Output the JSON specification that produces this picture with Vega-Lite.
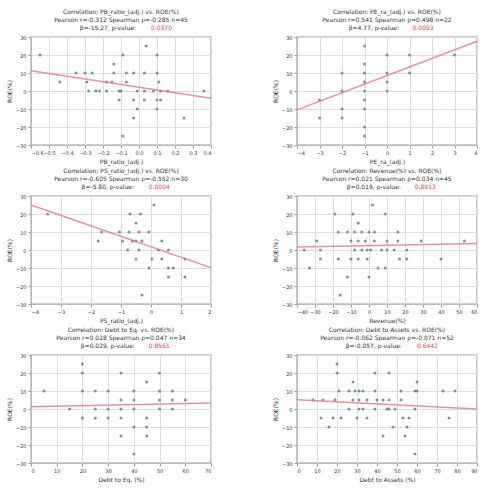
{
  "$schema": "https://vega.github.io/schema/vega-lite/v6.json",
  "padding": {"left": 5, "top": 8, "right": 5, "bottom": 2},
  "columns": 2,
  "spacing": {"row": 2, "column": 56},
  "datasets": {
    "p1": [{"x":-0.55,"y":20},{"x":-0.09,"y":20},{"x":0.1,"y":20},{"x":0.04,"y":25},{"x":-0.14,"y":15},{"x":-0.35,"y":10},{"x":-0.3,"y":10},{"x":-0.26,"y":10},{"x":-0.14,"y":10},{"x":-0.07,"y":10},{"x":-0.03,"y":10},{"x":0.03,"y":10},{"x":0.1,"y":10},{"x":-0.44,"y":5},{"x":-0.29,"y":5},{"x":-0.18,"y":5},{"x":-0.15,"y":5},{"x":-0.07,"y":5},{"x":0.11,"y":5},{"x":-0.28,"y":0},{"x":-0.24,"y":0},{"x":-0.22,"y":0},{"x":-0.18,"y":0},{"x":-0.11,"y":0},{"x":-0.1,"y":0},{"x":-0.01,"y":0},{"x":0.03,"y":0},{"x":0.08,"y":0},{"x":0.12,"y":0},{"x":0.16,"y":0},{"x":0.36,"y":0},{"x":-0.11,"y":-5},{"x":-0.03,"y":-5},{"x":0.03,"y":-5},{"x":0.1,"y":-5},{"x":0.12,"y":-5},{"x":-0.01,"y":-10},{"x":0.1,"y":-10},{"x":-0.03,"y":-15},{"x":0.25,"y":-15},{"x":-0.09,"y":-25}],
    "l1": [{"x":-0.6,"y":11.3},{"x":0.4,"y":-4}],
    "p2": [{"x":-1,"y":25},{"x":0,"y":20},{"x":1,"y":20},{"x":3,"y":20},{"x":-1,"y":15},{"x":-2,"y":10},{"x":-1,"y":10},{"x":0,"y":10},{"x":1,"y":10},{"x":-1,"y":5},{"x":0,"y":5},{"x":-2,"y":0},{"x":-1,"y":0},{"x":0,"y":0},{"x":-3,"y":-5},{"x":-1,"y":-5},{"x":-2,"y":-10},{"x":-1,"y":-10},{"x":-3,"y":-15},{"x":-2,"y":-15},{"x":-1,"y":-20},{"x":-1,"y":-25}],
    "l2": [{"x":-4,"y":-10.5},{"x":4,"y":27.6}],
    "p3": [{"x":-3.45,"y":20},{"x":0.1,"y":25},{"x":-0.7,"y":20},{"x":-0.35,"y":20},{"x":-0.5,"y":15},{"x":-1.65,"y":10},{"x":-1.05,"y":10},{"x":-0.73,"y":10},{"x":-0.4,"y":10},{"x":-0.07,"y":10},{"x":-1.76,"y":5},{"x":-0.95,"y":5},{"x":-0.62,"y":5},{"x":-0.5,"y":5},{"x":-0.3,"y":5},{"x":0.36,"y":5},{"x":-0.78,"y":0},{"x":-0.4,"y":0},{"x":0.25,"y":0},{"x":0.58,"y":0},{"x":-0.5,"y":-5},{"x":0.03,"y":-5},{"x":0.36,"y":-5},{"x":1.13,"y":-5},{"x":-0.07,"y":-10},{"x":0.58,"y":-10},{"x":0.74,"y":-10},{"x":0.58,"y":-15},{"x":1.13,"y":-15},{"x":-0.3,"y":-25}],
    "l3": [{"x":-4,"y":25},{"x":2,"y":-9.8}],
    "p4": [{"x":2,"y":25},{"x":-19,"y":20},{"x":-9,"y":20},{"x":9,"y":20},{"x":-6,"y":15},{"x":-17,"y":10},{"x":-12,"y":10},{"x":-8,"y":10},{"x":-4,"y":10},{"x":0,"y":10},{"x":3,"y":10},{"x":16,"y":10},{"x":-29,"y":5},{"x":-10,"y":5},{"x":-6,"y":5},{"x":-2,"y":5},{"x":3,"y":5},{"x":10,"y":5},{"x":16,"y":5},{"x":29,"y":5},{"x":53,"y":5},{"x":-36,"y":0},{"x":-27,"y":0},{"x":-8,"y":0},{"x":-4,"y":0},{"x":-1,"y":0},{"x":1,"y":0},{"x":7,"y":0},{"x":10,"y":0},{"x":14,"y":0},{"x":21,"y":0},{"x":-27,"y":-5},{"x":-17,"y":-5},{"x":-10,"y":-5},{"x":-6,"y":-5},{"x":-1,"y":-5},{"x":17,"y":-5},{"x":21,"y":-5},{"x":40,"y":-5},{"x":-33,"y":-10},{"x":5,"y":-10},{"x":9,"y":-10},{"x":-12,"y":-15},{"x":0,"y":-15},{"x":-16,"y":-25}],
    "l4": [{"x":-40,"y":1.7},{"x":60,"y":3.6}],
    "p5": [{"x":20,"y":25},{"x":20,"y":20},{"x":35,"y":20},{"x":50,"y":20},{"x":45,"y":15},{"x":5,"y":10},{"x":20,"y":10},{"x":25,"y":10},{"x":30,"y":10},{"x":40,"y":10},{"x":50,"y":10},{"x":55,"y":10},{"x":35,"y":5},{"x":40,"y":5},{"x":50,"y":5},{"x":55,"y":5},{"x":60,"y":5},{"x":15,"y":0},{"x":25,"y":0},{"x":30,"y":0},{"x":35,"y":0},{"x":40,"y":0},{"x":50,"y":0},{"x":55,"y":0},{"x":20,"y":-5},{"x":25,"y":-5},{"x":30,"y":-5},{"x":35,"y":-5},{"x":45,"y":-5},{"x":40,"y":-10},{"x":45,"y":-10},{"x":35,"y":-15},{"x":45,"y":-15},{"x":40,"y":-25}],
    "l5": [{"x":0,"y":1.3},{"x":70,"y":3.3}],
    "p6": [{"x":20,"y":25},{"x":20,"y":20},{"x":39,"y":20},{"x":46,"y":20},{"x":60,"y":15},{"x":28,"y":15},{"x":21,"y":10},{"x":26,"y":10},{"x":29,"y":10},{"x":31,"y":10},{"x":33,"y":10},{"x":39,"y":10},{"x":52,"y":10},{"x":59,"y":10},{"x":60,"y":10},{"x":73,"y":10},{"x":79,"y":10},{"x":8,"y":5},{"x":13,"y":5},{"x":19,"y":5},{"x":28,"y":5},{"x":31,"y":5},{"x":35,"y":5},{"x":40,"y":5},{"x":43,"y":5},{"x":46,"y":5},{"x":52,"y":5},{"x":26,"y":0},{"x":31,"y":0},{"x":33,"y":0},{"x":39,"y":0},{"x":45,"y":0},{"x":46,"y":0},{"x":49,"y":0},{"x":59,"y":0},{"x":12,"y":-5},{"x":18,"y":-5},{"x":22,"y":-5},{"x":30,"y":-5},{"x":35,"y":-5},{"x":53,"y":-5},{"x":56,"y":-5},{"x":76,"y":-5},{"x":16,"y":-10},{"x":48,"y":-10},{"x":55,"y":-10},{"x":43,"y":-15},{"x":54,"y":-15},{"x":59,"y":-25}],
    "l6": [{"x":0,"y":5.1},{"x":90,"y":0}]
  },
  "concat": [
    {
      "title": {"text": ["Correlation: PB_ratio_(adj.) vs. ROE(%)", "Pearson r=-0.312  Spearman ρ=-0.285  n=45", "β=-15.27, p-value:\u2800\u2800\u2800\u2800\u2800\u2800"], "subtitle": "\u2800\u2800\u2800\u2800\u2800\u2800\u2800\u2800\u2800\u2800\u2800\u2800\u2800\u2800\u2800\u2800\u2800\u2800 0.0370"},
      "width": 180, "height": 108,
      "encoding": {"x": {"field": "x", "type": "quantitative", "scale": {"domain": [-0.6, 0.4], "nice": false, "zero": false}, "axis": {"values": [-0.6,-0.5,-0.4,-0.3,-0.2,-0.1,0,0.1,0.2,0.3,0.4], "format": ".1f", "title": "PB_ratio_(adj.)"}},
                   "y": {"field": "y", "type": "quantitative", "scale": {"domain": [-30, 30], "nice": false}, "axis": {"values": [-30,-20,-10,0,10,20,30], "title": "ROE(%)"}}},
      "layer": [
        {"data": {"name": "p1"}, "mark": {"type": "point", "filled": true, "size": 9, "color": "#5b7a99", "opacity": 0.8}},
        {"data": {"name": "l1"}, "mark": {"type": "line", "color": "#f07080", "strokeWidth": 1.5, "opacity": 0.8}}
      ]
    },
    {
      "title": {"text": ["Correlation: PE_ra_(adj.) vs. ROE(%)", "Pearson r=0.541  Spearman ρ=0.498  n=22", "β=4.77, p-value:\u2800\u2800\u2800\u2800\u2800\u2800"], "subtitle": "\u2800\u2800\u2800\u2800\u2800\u2800\u2800\u2800\u2800\u2800\u2800\u2800\u2800\u2800\u2800\u2800 0.0093"},
      "width": 180, "height": 108,
      "encoding": {"x": {"field": "x", "type": "quantitative", "scale": {"domain": [-4, 4], "nice": false, "zero": false}, "axis": {"values": [-4,-3,-2,-1,0,1,2,3,4], "title": "PE_ra_(adj.)"}},
                   "y": {"field": "y", "type": "quantitative", "scale": {"domain": [-30, 30], "nice": false}, "axis": {"values": [-30,-20,-10,0,10,20,30], "title": "ROE(%)"}}},
      "layer": [
        {"data": {"name": "p2"}, "mark": {"type": "point", "filled": true, "size": 9, "color": "#5b7a99", "opacity": 0.8}},
        {"data": {"name": "l2"}, "mark": {"type": "line", "color": "#f07080", "strokeWidth": 1.5, "opacity": 0.8}}
      ]
    },
    {
      "title": {"text": ["Correlation: PS_ratio_(adj.) vs. ROE(%)", "Pearson r=-0.605  Spearman ρ=-0.552  n=30", "β=-5.80, p-value:\u2800\u2800\u2800\u2800\u2800\u2800"], "subtitle": "\u2800\u2800\u2800\u2800\u2800\u2800\u2800\u2800\u2800\u2800\u2800\u2800\u2800\u2800\u2800\u2800\u2800 0.0004"},
      "width": 180, "height": 108,
      "encoding": {"x": {"field": "x", "type": "quantitative", "scale": {"domain": [-4, 2], "nice": false, "zero": false}, "axis": {"values": [-4,-3,-2,-1,0,1,2], "title": "PS_ratio_(adj.)"}},
                   "y": {"field": "y", "type": "quantitative", "scale": {"domain": [-30, 30], "nice": false}, "axis": {"values": [-30,-20,-10,0,10,20,30], "title": "ROE(%)"}}},
      "layer": [
        {"data": {"name": "p3"}, "mark": {"type": "point", "filled": true, "size": 9, "color": "#5b7a99", "opacity": 0.8}},
        {"data": {"name": "l3"}, "mark": {"type": "line", "color": "#f07080", "strokeWidth": 1.5, "opacity": 0.8}}
      ]
    },
    {
      "title": {"text": ["Correlation: Revenue(%) vs. ROE(%)", "Pearson r=0.021  Spearman ρ=0.034  n=45", "β=0.019, p-value:\u2800\u2800\u2800\u2800\u2800\u2800"], "subtitle": "\u2800\u2800\u2800\u2800\u2800\u2800\u2800\u2800\u2800\u2800\u2800\u2800\u2800\u2800\u2800\u2800\u2800 0.8913"},
      "width": 180, "height": 108,
      "encoding": {"x": {"field": "x", "type": "quantitative", "scale": {"domain": [-40, 60], "nice": false, "zero": false}, "axis": {"values": [-40,-30,-20,-10,0,10,20,30,40,50,60], "title": "Revenue(%)"}},
                   "y": {"field": "y", "type": "quantitative", "scale": {"domain": [-30, 30], "nice": false}, "axis": {"values": [-30,-20,-10,0,10,20,30], "title": "ROE(%)"}}},
      "layer": [
        {"data": {"name": "p4"}, "mark": {"type": "point", "filled": true, "size": 9, "color": "#5b7a99", "opacity": 0.8}},
        {"data": {"name": "l4"}, "mark": {"type": "line", "color": "#f07080", "strokeWidth": 1.5, "opacity": 0.8}}
      ]
    },
    {
      "title": {"text": ["Correlation: Debt to Eq. vs. ROE(%)", "Pearson r=0.028  Spearman ρ=0.047  n=34", "β=0.029, p-value:\u2800\u2800\u2800\u2800\u2800\u2800"], "subtitle": "\u2800\u2800\u2800\u2800\u2800\u2800\u2800\u2800\u2800\u2800\u2800\u2800\u2800\u2800\u2800\u2800\u2800 0.8561"},
      "width": 180, "height": 108,
      "encoding": {"x": {"field": "x", "type": "quantitative", "scale": {"domain": [0, 70], "nice": false, "zero": false}, "axis": {"values": [0,10,20,30,40,50,60,70], "title": "Debt to Eq. (%)"}},
                   "y": {"field": "y", "type": "quantitative", "scale": {"domain": [-30, 30], "nice": false}, "axis": {"values": [-30,-20,-10,0,10,20,30], "title": "ROE(%)"}}},
      "layer": [
        {"data": {"name": "p5"}, "mark": {"type": "point", "filled": true, "size": 9, "color": "#5b7a99", "opacity": 0.8}},
        {"data": {"name": "l5"}, "mark": {"type": "line", "color": "#f07080", "strokeWidth": 1.5, "opacity": 0.8}}
      ]
    },
    {
      "title": {"text": ["Correlation: Debt to Assets vs. ROE(%)", "Pearson r=-0.062  Spearman ρ=-0.071  n=52", "β=-0.057, p-value:\u2800\u2800\u2800\u2800\u2800\u2800"], "subtitle": "\u2800\u2800\u2800\u2800\u2800\u2800\u2800\u2800\u2800\u2800\u2800\u2800\u2800\u2800\u2800\u2800\u2800\u2800 0.6442"},
      "width": 180, "height": 108,
      "encoding": {"x": {"field": "x", "type": "quantitative", "scale": {"domain": [0, 90], "nice": false, "zero": false}, "axis": {"values": [0,10,20,30,40,50,60,70,80,90], "title": "Debt to Assets (%)"}},
                   "y": {"field": "y", "type": "quantitative", "scale": {"domain": [-30, 30], "nice": false}, "axis": {"values": [-30,-20,-10,0,10,20,30], "title": "ROE(%)"}}},
      "layer": [
        {"data": {"name": "p6"}, "mark": {"type": "point", "filled": true, "size": 9, "color": "#5b7a99", "opacity": 0.8}},
        {"data": {"name": "l6"}, "mark": {"type": "line", "color": "#f07080", "strokeWidth": 1.5, "opacity": 0.8}}
      ]
    }
  ],
  "config": {
    "font": "DejaVu Sans",
    "view": {"stroke": "#bbbbbb", "strokeWidth": 1.5},
    "axis": {"labelFontSize": 5, "titleFontSize": 6, "titleFontWeight": "normal", "titleColor": "#333", "labelColor": "#333", "gridColor": "#dddddd", "domainColor": "#bbbbbb", "tickColor": "#999999", "tickSize": 3, "labelPadding": 2, "titlePadding": 3, "labelOverlap": false, "labelFont": "DejaVu Sans", "titleFont": "DejaVu Sans"},
    "title": {"fontSize": 6, "font": "DejaVu Sans", "fontWeight": "normal", "color": "#333", "lineHeight": 8, "offset": 4, "subtitleFontSize": 6, "subtitleFont": "DejaVu Sans", "subtitleColor": "#e8414f", "subtitleLineHeight": 8, "subtitlePadding": -6.5, "anchor": "middle"}
  }
}
